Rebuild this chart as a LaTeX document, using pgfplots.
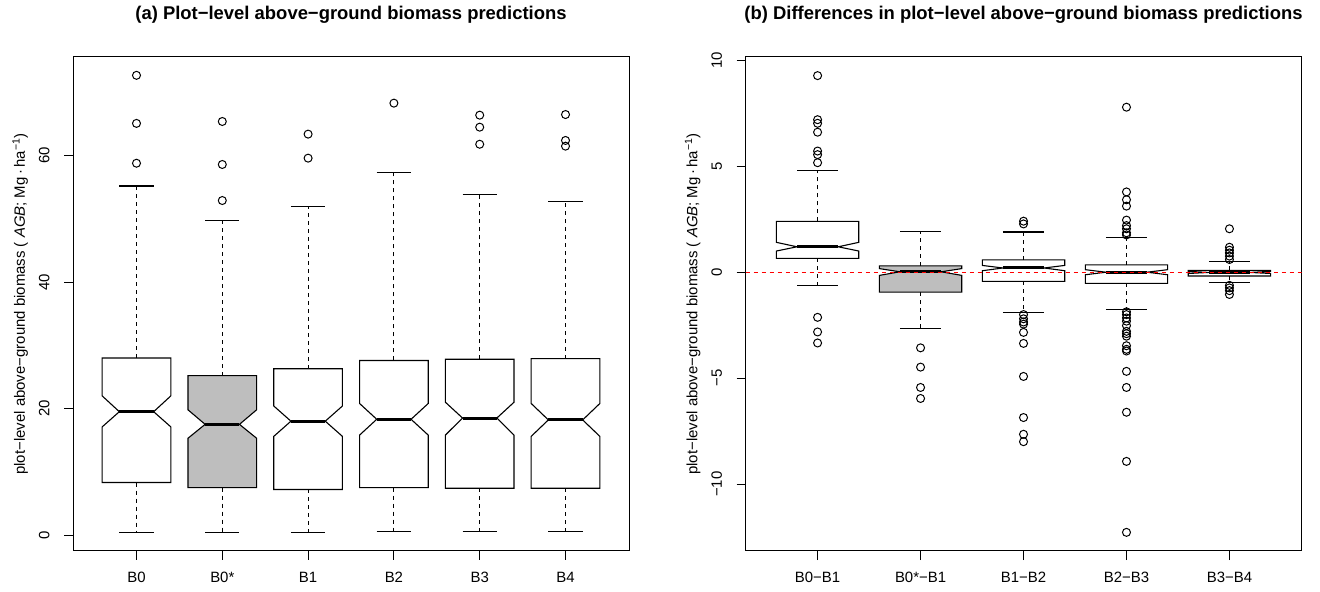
\documentclass[border=0pt]{standalone}
\usepackage{pgfplots}
\pgfplotsset{compat=1.18}
\usepgfplotslibrary{statistics}
\usepackage{fontspec}
\setmainfont{Liberation Sans}
\definecolor{rgray}{HTML}{BEBEBE}

\pgfplotsset{
  boxplot/lower notch/.initial=0,
  boxplot/upper notch/.initial=0,
  notched/.style={
    black, line width=1.1bp,
    mark=o, mark size=4bp, mark options={solid, line width=1bp},
    boxplot/draw direction=y,
    boxplot/box extend=0.8,
    boxplot/whisker extend=0.4,
    boxplot/draw/box/.code={
      \draw[/pgfplots/boxplot/every box/.try]
        (boxplot box cs:\pgfplotsboxplotvalue{lower quartile},0) --
        (boxplot box cs:\pgfplotsboxplotvalue{lower notch},0) --
        (boxplot box cs:\pgfplotsboxplotvalue{median},0.25) --
        (boxplot box cs:\pgfplotsboxplotvalue{upper notch},0) --
        (boxplot box cs:\pgfplotsboxplotvalue{upper quartile},0) --
        (boxplot box cs:\pgfplotsboxplotvalue{upper quartile},1) --
        (boxplot box cs:\pgfplotsboxplotvalue{upper notch},1) --
        (boxplot box cs:\pgfplotsboxplotvalue{median},0.75) --
        (boxplot box cs:\pgfplotsboxplotvalue{lower notch},1) --
        (boxplot box cs:\pgfplotsboxplotvalue{lower quartile},1) -- cycle;
    },
    boxplot/draw/median/.code={
      \draw[line width=3bp]
        (boxplot box cs:\pgfplotsboxplotvalue{median},0.25) --
        (boxplot box cs:\pgfplotsboxplotvalue{median},0.75);
    },
    boxplot/draw/lower whisker/.code={
      \draw[dash pattern=on 4bp off 4bp]
        (boxplot box cs:\pgfplotsboxplotvalue{lower quartile},0.5) --
        (boxplot box cs:\pgfplotsboxplotvalue{lower whisker},0.5);
      \draw
        (boxplot whisker cs:\pgfplotsboxplotvalue{lower whisker},0) --
        (boxplot whisker cs:\pgfplotsboxplotvalue{lower whisker},1);
    },
    boxplot/draw/upper whisker/.code={
      \draw[dash pattern=on 4bp off 4bp]
        (boxplot box cs:\pgfplotsboxplotvalue{upper quartile},0.5) --
        (boxplot box cs:\pgfplotsboxplotvalue{upper whisker},0.5);
      \draw
        (boxplot whisker cs:\pgfplotsboxplotvalue{upper whisker},0) --
        (boxplot whisker cs:\pgfplotsboxplotvalue{upper whisker},1);
    },
  },
  grayfill/.style={boxplot/every box/.style={fill=rgray}},
  raxis/.style={
    scale only axis, width=556bp, height=494bp, anchor=south west,
    axis line style={line width=1bp},
    tick style={black, line width=1bp},
    tick align=outside, major tick length=9bp,
    xtick pos=left, ytick pos=left,
    every tick label/.append style={font=\fontsize{15}{18}\selectfont},
    yticklabel style={rotate=90, anchor=base, inner sep=0pt},
    xticklabel style={anchor=base, inner sep=0pt},
    xticklabel shift=22.5bp,
    yticklabel shift=14.6bp,
    title style={font=\fontsize{18.5}{21}\selectfont\bfseries,
      at={(axis description cs:0.5,1.064)}, anchor=base, inner sep=0pt},
    ylabel style={font=\fontsize{15}{18}\selectfont,
      at={(axis description cs:-0.095,0.5)}, anchor=center},
    ylabel={plot−level above−ground biomass ( \textit{AGB}; Mg\,·\,ha\textsuperscript{−1})},
  },
}

\begin{document}
\begin{tikzpicture}[x=1bp,y=1bp]
\useasboundingbox (0,0) rectangle (1320,592);

\begin{axis}[raxis, at={(73bp,41bp)},
  title={(a) Plot−level above−ground biomass predictions},
  xmin=0.26, xmax=6.74, ymin=-2.53, ymax=75.6,
  xtick={1,2,3,4,5,6}, xticklabels={B0,B0*,B1,B2,B3,B4},
  ytick={0,20,40,60}, yticklabels={0,20,40,60}]
\addplot[notched, boxplot prepared={draw position=1, lower whisker=0.4, lower quartile=8.3, lower notch=17.1, median=19.5, upper notch=22.0, upper quartile=28.0, upper whisker=55.2}]
  table[row sep=\\, y index=0, header=false] {72.7\\65.1\\58.8\\};
\addplot[notched, grayfill, boxplot prepared={draw position=2, lower whisker=0.35, lower quartile=7.5, lower notch=15.3, median=17.5, upper notch=19.8, upper quartile=25.2, upper whisker=49.7}]
  table[row sep=\\, y index=0, header=false] {65.4\\58.6\\52.9\\};
\addplot[notched, boxplot prepared={draw position=3, lower whisker=0.4, lower quartile=7.2, lower notch=15.6, median=18.0, upper notch=20.4, upper quartile=26.3, upper whisker=51.9}]
  table[row sep=\\, y index=0, header=false] {63.4\\59.6\\};
\addplot[notched, boxplot prepared={draw position=4, lower whisker=0.5, lower quartile=7.5, lower notch=15.8, median=18.3, upper notch=20.8, upper quartile=27.6, upper whisker=57.4}]
  table[row sep=\\, y index=0, header=false] {68.3\\};
\addplot[notched, boxplot prepared={draw position=5, lower whisker=0.5, lower quartile=7.4, lower notch=15.8, median=18.5, upper notch=21.0, upper quartile=27.8, upper whisker=53.9}]
  table[row sep=\\, y index=0, header=false] {66.4\\64.5\\61.8\\};
\addplot[notched, boxplot prepared={draw position=6, lower whisker=0.5, lower quartile=7.4, lower notch=15.6, median=18.2, upper notch=20.8, upper quartile=27.9, upper whisker=52.8}]
  table[row sep=\\, y index=0, header=false] {66.5\\62.4\\61.5\\};
\end{axis}

\begin{axis}[raxis, at={(745.5bp,41bp)},
  title={(b) Differences in plot−level above−ground biomass predictions},
  xmin=0.3, xmax=5.7, ymin=-13.16, ymax=10.16,
  xtick={1,2,3,4,5}, xticklabels={B0−B1,B0*−B1,B1−B2,B2−B3,B3−B4},
  ytick={-10,-5,0,5,10}, yticklabels={−10,−5,0,5,10}]
\addplot[notched, boxplot prepared={draw position=1, lower whisker=-0.62, lower quartile=0.65, lower notch=1.0, median=1.2, upper notch=1.41, upper quartile=2.4, upper whisker=4.8}]
  table[row sep=\\, y index=0, header=false] {9.28\\7.2\\7.03\\6.61\\5.72\\5.55\\5.17\\-2.13\\-2.82\\-3.34\\};
\addplot[notched, grayfill, boxplot prepared={draw position=2, lower whisker=-2.67, lower quartile=-0.94, lower notch=-0.15, median=0.02, upper notch=0.17, upper quartile=0.3, upper whisker=1.93}]
  table[row sep=\\, y index=0, header=false] {-3.57\\-4.48\\-5.44\\-5.96\\};
\addplot[notched, boxplot prepared={draw position=3, lower whisker=-1.92, lower quartile=-0.43, lower notch=0.07, median=0.2, upper notch=0.32, upper quartile=0.58, upper whisker=1.9}]
  table[row sep=\\, y index=0, header=false] {2.41\\2.28\\-2.0\\-2.2\\-2.35\\-2.45\\-2.84\\-3.36\\-4.92\\-6.86\\-7.65\\-8.0\\};
\addplot[notched, boxplot prepared={draw position=4, lower whisker=-1.77, lower quartile=-0.53, lower notch=-0.12, median=0.0, upper notch=0.12, upper quartile=0.35, upper whisker=1.63}]
  table[row sep=\\, y index=0, header=false] {7.79\\3.79\\3.42\\3.12\\2.46\\2.2\\2.05\\1.86\\1.76\\-1.87\\-2.0\\-2.16\\-2.31\\-2.52\\-2.79\\-2.9\\-3.02\\-3.47\\-3.64\\-3.72\\-4.68\\-5.44\\-6.61\\-8.93\\-12.28\\};
\addplot[notched, boxplot prepared={draw position=5, lower whisker=-0.47, lower quartile=-0.18, lower notch=-0.06, median=-0.01, upper notch=0.04, upper quartile=0.09, upper whisker=0.49}]
  table[row sep=\\, y index=0, header=false] {2.05\\1.18\\1.04\\0.91\\0.76\\0.6\\-0.62\\-0.74\\-0.87\\-1.05\\};
\addplot[red, line width=1.1bp, dash pattern=on 4bp off 4bp] coordinates {(0.3,0) (5.7,0)};
\end{axis}
\end{tikzpicture}
\end{document}
